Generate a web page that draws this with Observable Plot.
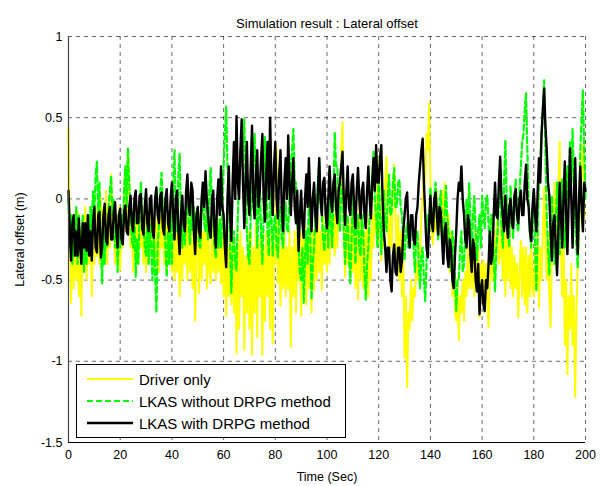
<!DOCTYPE html>
<html>
<head>
<meta charset="utf-8">
<script src="https://cdn.jsdelivr.net/npm/d3@7"></script>
<script src="https://cdn.jsdelivr.net/npm/@observablehq/plot@0.6"></script>
<style>
  html, body { margin: 0; padding: 0; background: #fff; }
  #wrap { position: relative; width: 607px; height: 486px; font-family: "Liberation Sans", Arial, Helvetica, sans-serif; }
  #legend { position: absolute; left: 76px; top: 364px; width: 268px; height: 72px; border: 1px solid #000; background: #fff; }
  .row { position: absolute; left: 0; height: 22px; width: 100%; }
  .row svg { position: absolute; left: 9px; top: 0; }
  .row span { position: absolute; left: 62px; top: 2px; font-size: 15px; line-height: 18px; color: #000; white-space: nowrap; }
</style>
</head>
<body>
<div id="wrap"></div>
<script>
// ---- data (lateral offset in m, sampled every 0.5 s from 0 to 200 s) ----
const timeStep = 0.5;
const seriesNames = ["Driver only", "LKAS without DRPG method", "LKAS with DRPG method"];
const xTicks = [0, 20, 40, 60, 80, 100, 120, 140, 160, 180, 200];
const yTicks = [1, 0.5, 0, -0.5, -1, -1.5];

const driverOnly = [
 0.44,-0.2,-0.64,-0.1,-0.55,-0.15,-0.5,-0.08,-0.6,-0.2,
 -0.72,-0.1,-0.45,-0.05,-0.5,-0.15,-0.4,-0.1,-0.6,-0.2,
 -0.4,-0.05,-0.35,-0.1,-0.4,0.0,-0.3,-0.05,-0.38,0.05,
 -0.4,-0.05,-0.3,0.15,-0.2,-0.05,-0.4,-0.1,-0.35,-0.05,
 -0.44,-0.1,-0.3,0.0,0.2,-0.2,0.31,0.1,-0.3,-0.1,
 -0.45,-0.16,-0.36,-0.05,-0.4,-0.15,-0.3,-0.05,-0.4,-0.1,
 -0.45,-0.1,-0.4,-0.05,-0.3,-0.1,-0.45,-0.15,-0.4,-0.05,
 -0.45,-0.1,-0.3,-0.05,-0.4,-0.1,-0.45,-0.15,-0.3,-0.1,
 -0.45,-0.2,-0.5,-0.16,-0.45,-0.15,-0.6,-0.2,-0.5,-0.1,
 -0.4,-0.05,-0.5,-0.1,-0.45,-0.15,-0.55,-0.2,-0.75,-0.3,
 -0.1,-0.58,-0.08,-0.5,-0.2,-0.4,-0.1,-0.55,-0.15,-0.45,
 -0.52,-0.12,-0.45,-0.2,-0.5,-0.1,-0.45,-0.2,-0.52,-0.15,
 -0.6,-0.2,-0.72,-0.3,-0.6,-0.2,-0.65,-0.25,-0.7,-0.3,
 -0.95,-0.25,-0.8,-0.2,-0.6,-0.3,-0.93,-0.35,-0.7,-0.2,
 -0.8,-0.2,-0.96,-0.3,-0.7,-0.15,-0.85,-0.25,-0.6,-0.2,
 -0.96,-0.3,-0.75,-0.2,-0.6,-0.25,-0.8,-0.2,-0.89,-0.3,
 -0.4,0.31,-0.52,-0.2,-0.66,-0.3,-0.55,-0.2,-0.6,-0.3,
 -0.55,-0.2,-0.91,-0.3,-0.6,-0.2,-0.7,-0.16,-0.5,-0.2,
 -0.72,-0.2,-0.5,-0.16,-0.65,-0.25,-0.55,-0.16,-0.7,-0.2,
 -0.56,-0.08,-0.5,-0.1,-0.45,-0.2,-0.56,-0.1,-0.4,-0.2,
 -0.45,-0.05,-0.4,0.0,-0.3,-0.1,-0.35,0.0,-0.3,0.1,
 -0.1,0.3,0.47,-0.2,-0.48,-0.1,-0.4,-0.15,-0.48,-0.1,
 -0.45,-0.05,-0.55,-0.1,-0.62,-0.01,-0.5,-0.1,-0.55,-0.2,
 -0.6,-0.1,-0.6,-0.2,-0.5,-0.1,-0.3,0.0,-0.2,0.1,
 0.25,-0.2,-0.38,0.0,-0.3,0.1,0.26,-0.1,-0.4,-0.1,
 -0.3,0.05,0.21,-0.1,-0.4,-0.1,-0.5,-0.2,-0.6,-0.3,
 -0.98,-0.6,-1.16,-0.7,-0.8,-0.5,-0.75,-0.55,-0.6,-0.4,
 -0.5,-0.3,-0.35,-0.1,0.0,0.2,0.1,0.4,0.3,0.59,
 0.1,-0.2,-0.28,0.0,-0.2,0.05,-0.25,-0.05,-0.2,0.05,
 -0.2,0.1,-0.15,-0.28,-0.1,-0.45,-0.2,-0.6,-0.35,-0.7,
 -0.75,-0.5,-0.87,-0.6,-0.7,-0.5,-0.75,-0.45,-0.6,-0.3,
 -0.55,-0.2,-0.55,-0.25,-0.6,-0.2,-0.5,-0.3,-0.73,-0.4,
 -0.6,-0.38,-0.7,-0.4,-0.6,-0.79,-0.5,-0.3,-0.5,-0.2,
 -0.5,-0.2,-0.08,-0.4,-0.35,-0.1,-0.5,-0.1,-0.6,-0.2,
 -0.5,-0.1,-0.55,-0.3,-0.6,-0.35,-0.55,-0.4,-0.73,-0.45,
 -0.26,-0.6,-0.3,-0.65,-0.3,-0.7,-0.35,-0.6,-0.26,-0.55,
 -0.6,-0.3,-0.55,-0.2,-0.67,-0.3,-0.5,-0.2,0.07,-0.3,
 -0.5,-0.2,-0.6,-0.79,-0.3,-0.2,0.1,-0.3,-0.4,0.05,
 0.35,-0.3,-0.6,-0.2,-0.9,-0.5,-1.08,-0.6,-0.8,-0.4,
 -0.9,-0.6,-1.22,-0.7,-0.4,-0.2,0.0,0.2,0.33,-0.1,
 -0.1
];

const lkasWithout = [
 0.0,-0.3,-0.1,-0.4,-0.15,-0.35,-0.05,-0.4,-0.1,-0.3,
 -0.35,-0.1,-0.45,-0.15,-0.4,-0.1,-0.3,-0.05,-0.2,0.05,
 -0.1,0.15,0.23,-0.1,0.1,-0.3,-0.52,-0.2,-0.4,-0.15,
 -0.3,-0.05,0.05,0.14,-0.1,0.0,-0.3,-0.1,-0.45,-0.2,
 -0.3,-0.1,-0.25,0.05,0.2,-0.05,0.31,0.1,-0.05,-0.25,
 -0.3,-0.1,-0.48,-0.25,-0.4,-0.1,0.1,-0.1,-0.15,-0.3,
 -0.35,-0.1,-0.4,-0.15,-0.3,-0.5,-0.2,-0.45,-0.7,-0.3,
 -0.15,0.05,0.16,-0.05,-0.1,-0.3,-0.48,-0.2,-0.4,-0.1,
 -0.4,0.1,0.3,-0.1,-0.2,0.15,0.28,-0.1,-0.3,-0.1,
 -0.28,-0.1,0.05,-0.15,-0.28,-0.05,-0.2,-0.05,-0.25,-0.1,
 -0.05,-0.28,-0.3,-0.05,0.1,-0.15,-0.2,0.0,-0.25,0.05,
 0.19,-0.05,-0.12,-0.3,-0.36,-0.15,-0.3,-0.12,-0.3,-0.1,
 0.2,0.4,0.57,0.2,0.1,-0.3,-0.58,-0.3,-0.2,-0.4,
 -0.44,-0.1,0.1,0.3,0.2,0.35,0.49,0.1,-0.2,-0.35,
 -0.4,-0.1,0.0,0.25,0.4,0.1,-0.3,-0.1,0.1,-0.2,
 -0.4,-0.1,0.38,0.1,-0.2,-0.35,0.05,-0.1,-0.35,-0.15,
 -0.1,-0.3,-0.36,-0.1,-0.05,-0.25,-0.3,-0.1,-0.02,-0.2,
 -0.2,0.05,0.2,0.3,0.43,0.1,0.1,-0.15,-0.3,-0.45,
 -0.5,-0.3,-0.64,-0.35,-0.2,-0.4,0.05,-0.2,-0.62,-0.4,
 -0.3,-0.1,0.0,0.1,0.25,-0.05,-0.1,-0.25,-0.32,-0.15,
 -0.1,-0.3,0.1,-0.15,-0.3,0.0,0.41,0.2,0.2,-0.05,
 -0.2,0.05,0.1,-0.2,-0.4,-0.2,-0.1,-0.35,-0.52,-0.25,
 0.05,-0.2,-0.4,-0.15,-0.1,-0.3,-0.35,-0.1,-0.2,-0.45,
 -0.62,-0.4,-0.3,-0.1,0.0,0.15,0.29,0.0,-0.1,-0.3,
 0.2,-0.1,-0.34,-0.1,0.05,-0.15,-0.2,0.0,0.15,-0.1,
 -0.08,0.1,0.19,-0.05,-0.05,0.1,0.12,-0.05,-0.1,-0.25,
 -0.38,-0.2,-0.15,-0.3,-0.3,-0.12,-0.12,-0.3,-0.45,-0.25,
 -0.2,-0.4,-0.55,-0.35,-0.3,-0.5,-0.63,-0.4,-0.1,-0.2,
 0.07,-0.1,-0.18,0.0,0.1,-0.1,-0.25,-0.05,0.05,-0.15,
 -0.3,-0.1,0.08,-0.1,-0.2,-0.35,-0.45,-0.2,-0.3,-0.5,
 -0.69,-0.5,-0.5,-0.3,-0.2,-0.45,-0.4,-0.2,0.0,-0.2,
 0.1,-0.15,-0.35,-0.1,0.02,-0.2,-0.38,-0.2,-0.1,-0.3,
 0.02,-0.1,-0.18,0.0,0.02,-0.15,-0.3,-0.1,-0.1,-0.35,
 -0.57,-0.3,-0.2,0.0,0.1,-0.15,-0.3,0.1,0.36,0.0,
 -0.1,-0.3,0.08,-0.1,-0.24,0.0,0.12,-0.15,-0.2,0.05,
 0.2,0.35,0.4,0.55,0.65,0.3,0.0,-0.2,-0.3,-0.1,
 0.05,-0.3,-0.57,-0.2,0.1,0.25,0.4,0.55,0.73,0.3,
 -0.1,-0.3,-0.47,-0.2,0.02,-0.2,-0.4,-0.15,0.1,-0.15,
 -0.34,-0.1,0.12,-0.15,-0.3,-0.05,0.2,0.0,0.35,0.1,
 0.43,0.1,-0.1,-0.3,-0.42,-0.1,0.3,0.5,0.67,0.3,
 0.0
];

const lkasWith = [
 0.05,-0.2,-0.38,-0.15,-0.1,-0.35,-0.2,-0.35,-0.12,-0.3,
 -0.4,-0.15,-0.3,-0.15,-0.32,-0.1,-0.35,-0.2,-0.38,-0.15,
 -0.05,-0.3,-0.33,-0.1,-0.08,-0.36,-0.3,-0.1,-0.03,-0.25,
 -0.28,-0.1,-0.05,-0.25,-0.25,-0.08,-0.02,-0.2,-0.3,-0.1,
 -0.06,-0.25,-0.28,-0.08,-0.04,-0.2,-0.22,-0.05,0.02,-0.15,
 -0.2,0.0,0.05,-0.15,-0.15,0.02,0.03,-0.18,-0.22,-0.05,
 0.06,-0.15,-0.2,0.0,0.02,-0.2,-0.24,0.0,0.07,-0.1,
 -0.15,0.02,0.04,-0.18,-0.22,0.0,0.06,-0.15,-0.2,0.0,
 0.1,-0.1,-0.25,0.0,0.05,-0.2,-0.34,-0.1,0.02,-0.15,
 -0.2,0.05,0.15,-0.05,-0.1,0.1,0.05,-0.2,-0.34,-0.1,
 -0.05,-0.2,-0.24,0.0,0.1,-0.05,0.17,0.0,-0.1,-0.2,
 -0.24,0.0,0.05,-0.2,-0.3,0.0,0.12,-0.1,0.2,-0.05,
 -0.1,-0.3,-0.42,0.0,0.2,-0.1,-0.26,0.1,0.35,0.0,
 0.51,0.1,0.0,0.3,0.49,0.1,-0.18,0.1,0.35,0.0,
 -0.1,0.2,0.45,0.0,-0.12,0.15,0.3,-0.05,0.05,0.25,
 0.4,0.0,-0.14,0.15,0.35,0.0,0.5,0.1,-0.1,0.2,
 0.35,0.0,-0.12,0.15,0.3,-0.05,-0.2,0.1,0.25,0.0,
 0.39,0.1,-0.1,0.1,0.25,-0.05,-0.15,0.05,-0.32,-0.1,
 0.05,-0.15,-0.24,0.0,0.15,-0.05,0.25,0.0,-0.2,0.0,
 0.1,-0.1,-0.2,0.05,0.25,0.0,-0.1,0.1,0.13,-0.1,
 -0.18,0.0,0.2,0.0,-0.08,0.1,0.15,-0.05,-0.15,0.05,
 0.1,0.2,0.29,0.0,-0.16,0.05,0.2,-0.05,-0.1,0.1,
 0.15,-0.05,-0.18,0.05,0.19,0.0,-0.12,0.05,0.1,-0.1,
 -0.18,0.05,0.2,0.0,-0.12,0.1,0.25,0.05,0.33,0.1,
 0.1,0.25,0.33,0.0,-0.2,-0.3,-0.45,-0.3,-0.3,-0.5,
 -0.57,-0.35,-0.28,-0.45,-0.47,-0.3,-0.3,-0.45,-0.38,-0.2,
 -0.1,0.0,0.04,-0.2,-0.3,-0.1,-0.1,-0.25,-0.28,-0.1,
 -0.05,0.1,0.2,0.3,0.37,0.1,-0.1,-0.3,-0.36,-0.15,
 0.02,-0.15,-0.2,0.0,0.04,-0.1,-0.22,-0.05,-0.08,-0.25,
 -0.4,-0.2,-0.15,-0.35,-0.42,-0.25,-0.3,-0.5,-0.55,-0.35,
 -0.2,0.0,0.1,0.05,0.2,0.0,-0.1,-0.25,-0.3,-0.1,
 -0.15,-0.35,-0.45,-0.25,-0.3,-0.5,-0.57,-0.4,-0.71,-0.55,
 -0.5,-0.65,-0.69,-0.5,-0.55,-0.4,-0.2,-0.4,-0.35,-0.1,
 0.1,-0.1,-0.12,0.1,0.26,0.0,-0.1,-0.2,0.02,-0.15,
 -0.24,-0.05,0.0,-0.15,-0.18,0.02,0.06,-0.1,-0.15,0.0,
 0.05,-0.1,-0.1,0.1,0.21,0.0,-0.05,-0.2,-0.26,-0.05,
 0.06,-0.1,-0.2,0.05,0.25,0.1,0.4,0.55,0.68,0.45,
 0.3,0.1,0.02,-0.2,-0.38,-0.15,-0.1,-0.3,-0.47,-0.2,
 0.1,-0.1,-0.3,0.0,0.23,-0.1,-0.34,0.0,0.31,0.0,
 -0.3,0.0,0.25,-0.1,-0.34,0.0,0.2,-0.05,-0.2,0.1,
 0.05
];

const colors = ["#ffff00", "#00ff00", "#000000"];

const toRows = (vals) => vals.map((v, i) => ({t: i * timeStep, v}));

const chart = Plot.plot({
  width: 607,
  height: 486,
  marginTop: 36,
  marginRight: 22,
  marginBottom: 44,
  marginLeft: 68,
  style: {fontFamily: '"Liberation Sans", Arial, Helvetica, sans-serif', fontSize: "12.5px", color: "#000", background: "#fff"},
  x: {domain: [0, 200]},
  y: {domain: [-1.5, 1]},
  marks: [
    Plot.gridX(xTicks.slice(1), {stroke: "#000", strokeOpacity: 0.85, strokeWidth: 0.7, strokeDasharray: "4,4"}),
    Plot.gridY(yTicks.slice(0, -1), {stroke: "#000", strokeOpacity: 0.85, strokeWidth: 0.7, strokeDasharray: "4,4"}),
    Plot.lineY(toRows(driverOnly), {x: "t", y: "v", stroke: colors[0], strokeWidth: 2, curve: "linear"}),
    Plot.lineY(toRows(lkasWithout), {x: "t", y: "v", stroke: colors[1], strokeWidth: 2.2, strokeDasharray: "6,3", curve: "linear"}),
    Plot.lineY(toRows(lkasWith), {x: "t", y: "v", stroke: colors[2], strokeWidth: 2.4, curve: "linear"}),
    Plot.ruleX([0], {stroke: "#444", strokeWidth: 1.2}),
    Plot.ruleY([-1.5], {stroke: "#000", strokeWidth: 1.2}),
    Plot.axisX({ticks: xTicks, tickSize: 0, tickPadding: 8, tickFormat: d => String(d),
      label: "Time (Sec)", labelAnchor: "center", labelArrow: "none", labelOffset: 38}),
    Plot.axisY({ticks: yTicks, tickSize: 0, tickPadding: 6, tickFormat: d => String(d),
      label: "Lateral offset (m)", labelAnchor: "center", labelArrow: "none", labelOffset: 53}),
    Plot.text(["Simulation result : Lateral offset"], {frameAnchor: "top", dy: -18, fontSize: 13, text: d => d})
  ]
});

const wrap = document.getElementById("wrap");
wrap.appendChild(chart);

// legend
const legend = document.createElement("div");
legend.id = "legend";
const dashes = [null, "6,3", null];
const widths = [2, 2, 2.6];
seriesNames.forEach((name, i) => {
  const row = document.createElement("div");
  row.className = "row";
  row.style.top = (4 + i * 22) + "px";
  row.innerHTML = `<svg width="48" height="22"><line x1="1" x2="47" y1="10" y2="10" stroke="${colors[i]}" stroke-width="${widths[i]}" ${dashes[i] ? `stroke-dasharray="${dashes[i]}"` : ""}/></svg><span>${name}</span>`;
  legend.appendChild(row);
});
wrap.appendChild(legend);
</script>
</body>
</html>
